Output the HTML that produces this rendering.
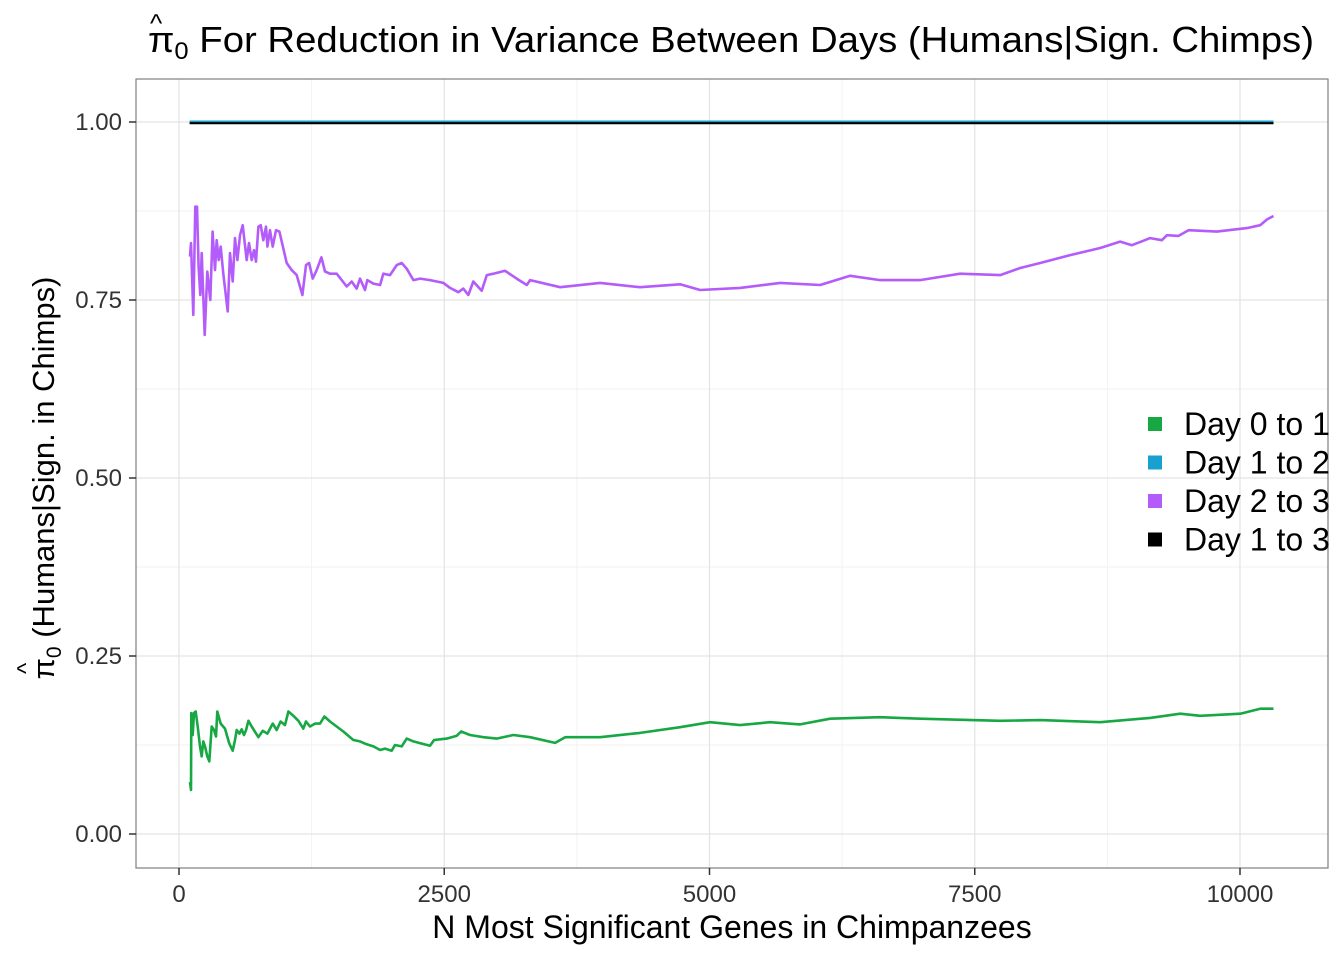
<!DOCTYPE html>
<html><head><meta charset="utf-8"><style>
body{margin:0;background:#fff;font-family:"Liberation Sans",Arial,sans-serif}
svg text{font-family:"Liberation Sans",Arial,sans-serif}
</style></head><body>
<svg id="chart" width="1344" height="960" xmlns="http://www.w3.org/2000/svg"></svg>
<script>
const xTicks=[0,2500,5000,7500,10000];
const xTickLabels=["0","2500","5000","7500","10000"];
const yTicks=[0,0.25,0.5,0.75,1.0];
const yTickLabels=["0.00","0.25","0.50","0.75","1.00"];
const seriesNames=["Day 0 to 1","Day 1 to 2","Day 2 to 3","Day 1 to 3"];
const seriesColors=["#17a844","#18a0d0","#b45cfa","#000000"];
const flatX=[100,10316];
const flatY=[1.0,1.0];
const purpleX=[104,113,135,154,170,185,201,214,242,267,295,317,339,355,374,393,418,459,481,506,528,550,575,600,638,660,685,707,726,748,770,795,820,833,858,883,914,946,1015,1062,1109,1163,1197,1226,1260,1298,1342,1376,1423,1486,1581,1628,1675,1706,1753,1775,1832,1895,1926,1989,2052,2099,2146,2209,2272,2366,2492,2555,2633,2680,2727,2774,2853,2901,2963,3073,3183,3278,3309,3592,3969,4346,4723,4911,5288,5666,6043,6325,6608,6985,7362,7740,7928,8117,8400,8682,8871,8981,9153,9264,9311,9420,9515,9782,10065,10190,10254,10316];
const purpleY=[0.811,0.830,0.729,0.881,0.881,0.797,0.757,0.816,0.701,0.790,0.750,0.846,0.792,0.834,0.806,0.825,0.787,0.734,0.816,0.776,0.837,0.806,0.841,0.855,0.806,0.830,0.806,0.820,0.804,0.853,0.855,0.834,0.853,0.825,0.848,0.825,0.848,0.846,0.802,0.792,0.785,0.757,0.799,0.802,0.780,0.792,0.810,0.790,0.787,0.787,0.769,0.776,0.766,0.780,0.764,0.778,0.773,0.771,0.787,0.785,0.799,0.802,0.794,0.778,0.780,0.778,0.774,0.767,0.761,0.766,0.757,0.776,0.763,0.785,0.787,0.791,0.780,0.771,0.778,0.768,0.774,0.768,0.772,0.764,0.767,0.774,0.771,0.784,0.778,0.778,0.787,0.785,0.795,0.802,0.813,0.823,0.832,0.827,0.837,0.834,0.841,0.840,0.848,0.846,0.851,0.855,0.863,0.868];
const greenX=[104,113,116,129,141,157,176,198,214,229,245,267,286,308,330,349,361,393,434,474,506,528,544,569,591,613,632,654,685,748,789,833,883,921,958,999,1031,1078,1125,1172,1197,1235,1282,1329,1370,1423,1549,1643,1706,1769,1832,1895,1942,2005,2036,2099,2146,2209,2288,2366,2404,2461,2524,2618,2659,2743,2869,2994,3151,3309,3545,3640,3969,4346,4723,5006,5288,5571,5854,6137,6608,6985,7740,8117,8682,9153,9436,9625,10003,10190,10316];
const greenY=[0.073,0.062,0.170,0.139,0.170,0.172,0.151,0.123,0.109,0.130,0.123,0.109,0.102,0.151,0.146,0.137,0.172,0.155,0.148,0.127,0.117,0.132,0.146,0.141,0.147,0.139,0.146,0.159,0.151,0.136,0.145,0.141,0.155,0.146,0.158,0.153,0.172,0.166,0.159,0.148,0.158,0.151,0.155,0.155,0.165,0.158,0.144,0.132,0.130,0.126,0.123,0.118,0.120,0.117,0.125,0.123,0.134,0.130,0.127,0.124,0.132,0.133,0.134,0.138,0.144,0.139,0.136,0.134,0.139,0.136,0.128,0.136,0.136,0.142,0.150,0.157,0.153,0.157,0.154,0.162,0.164,0.162,0.159,0.160,0.157,0.163,0.169,0.166,0.169,0.176,0.176];

const svg=document.getElementById('chart');
const NS="http://www.w3.org/2000/svg";
const P={l:136,r:1328,t:79,b:868};
const xs=v=>179+(v/10000)*(1240-179);
const ys=v=>834-v*712;
function mk(tag,attrs,parent){const e=document.createElementNS(NS,tag);for(const k in attrs)e.setAttribute(k,attrs[k]);(parent||svg).appendChild(e);return e;}

const grid=mk('g',{});


for(let i=0;i<xTicks.length-1;i++){const m=(xTicks[i]+xTicks[i+1])/2;mk('line',{x1:xs(m),x2:xs(m),y1:P.t,y2:P.b,stroke:'#f2f2f2','stroke-width':1},grid);}
for(let i=0;i<yTicks.length-1;i++){const m=(yTicks[i]+yTicks[i+1])/2;mk('line',{x1:P.l,x2:P.r,y1:ys(m),y2:ys(m),stroke:'#f2f2f2','stroke-width':1},grid);}
xTicks.forEach(v=>mk('line',{x1:xs(v),x2:xs(v),y1:P.t,y2:P.b,stroke:'#e3e3e3','stroke-width':1.2},grid));
yTicks.forEach(v=>mk('line',{x1:P.l,x2:P.r,y1:ys(v),y2:ys(v),stroke:'#e3e3e3','stroke-width':1.2},grid));

function path(X,Y){return X.map((x,i)=>(i?'L':'M')+xs(x).toFixed(1)+','+ys(Y[i]).toFixed(1)).join('');}
const g0=mk('path',{d:path(greenX,greenY),fill:'none',stroke:seriesColors[0],'stroke-width':2.6,'stroke-linejoin':'round'});


const g1=mk('path',{d:path(flatX,flatY),fill:'none',stroke:seriesColors[1],'stroke-width':3});


const g2=mk('path',{d:path(purpleX,purpleY),fill:'none',stroke:seriesColors[2],'stroke-width':2.6,'stroke-linejoin':'round'});


const g3=mk('path',{d:path(flatX,flatY),fill:'none',stroke:seriesColors[3],'stroke-width':2.2,transform:'translate(0,1.2)'});



const frame=mk('rect',{x:P.l,y:P.t,width:P.r-P.l,height:P.b-P.t,fill:'none',stroke:'#7f7f7f','stroke-width':1.2});



xTicks.forEach((v,i)=>{
  mk('line',{x1:xs(v),x2:xs(v),y1:P.b,y2:P.b+7,stroke:'#333','stroke-width':1.5});
  const t=mk('text',{x:xs(v),y:P.b+34,'font-size':24,'text-anchor':'middle',fill:'#333'});
  t.textContent=xTickLabels[i];
  
  
});
yTicks.forEach((v,i)=>{
  mk('line',{x1:P.l-7,x2:P.l,y1:ys(v),y2:ys(v),stroke:'#333','stroke-width':1.5});
  const t=mk('text',{x:P.l-14,y:ys(v)+8,'font-size':24,'text-anchor':'end',fill:'#333'});
  t.textContent=yTickLabels[i];
  
  
});

const lg=mk('g',{});


seriesNames.forEach((n,i)=>{
  const y=424+i*38.5;
  mk('rect',{x:1148,y:y-7,width:14,height:14,fill:seriesColors[i]},lg);
  const t=mk('text',{x:1184,y:y+11,'font-size':32,fill:'#000'},lg);
  t.textContent=n;
  
  
});
</script>
<svg width="1344" height="960" style="position:absolute;left:0;top:0" xmlns="http://www.w3.org/2000/svg">
<text x="148" y="52" font-size="36" fill="#000" textLength="1166" lengthAdjust="spacingAndGlyphs"><tspan>π</tspan><tspan font-size="24" dy="7">0</tspan><tspan dy="-7"> For Reduction in Variance Between Days (Humans|Sign. Chimps)</tspan></text>
<text x="150" y="32" font-size="26" fill="#000">^</text>
<text x="732" y="938" font-size="32" text-anchor="middle" fill="#000">N Most Significant Genes in Chimpanzees</text>
<g transform="translate(54,478) rotate(-90)">
<text x="0" y="0" font-size="31" text-anchor="middle" fill="#000"><tspan>π</tspan><tspan font-size="21" dy="7">0</tspan><tspan dy="-7"> (Humans|Sign. in Chimps)</tspan></text>
<text x="-196" y="-20" font-size="24" fill="#000">^</text>
</g>
</svg>
</body></html>
